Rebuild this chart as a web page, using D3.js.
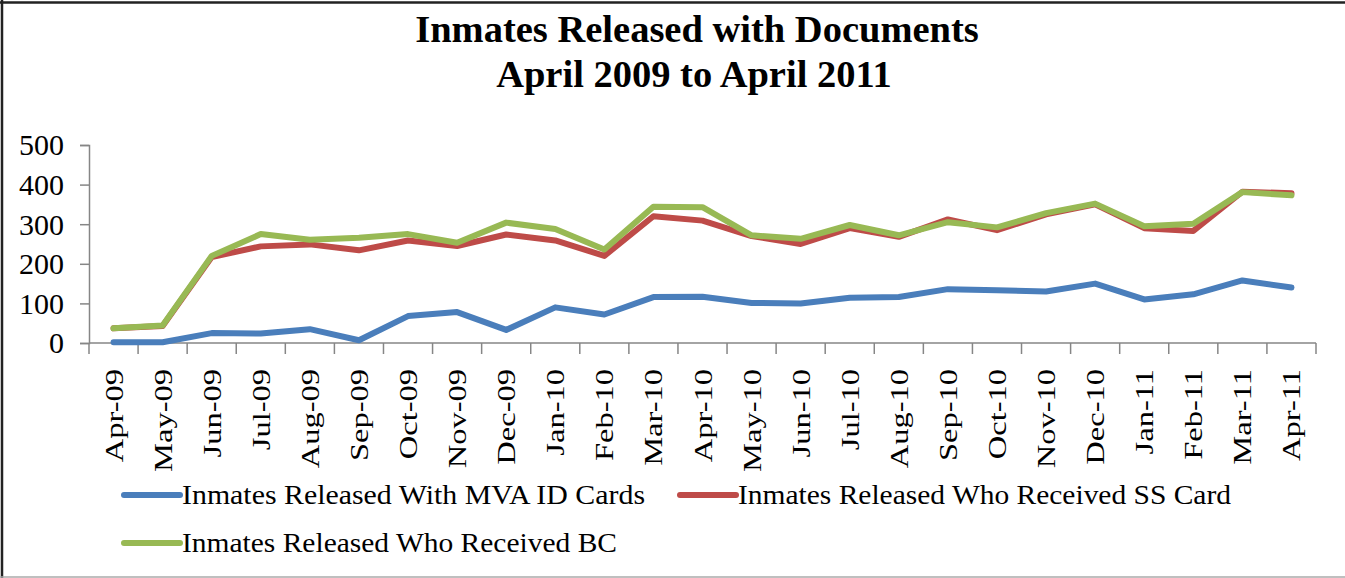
<!DOCTYPE html>
<html>
<head>
<meta charset="utf-8">
<script src="https://cdn.jsdelivr.net/npm/d3@7"></script>
<style>
  html, body { margin: 0; padding: 0; background: #fff; }
  svg { display: block; }
  svg text { font-family: "Liberation Serif", "Times New Roman", serif; }
</style>
</head>
<body>
<div id="chart"></div>
<script>
const width = 1345, height = 578;
const SERIF = '"Liberation Serif", "Times New Roman", serif';

const months = ['Apr-09','May-09','Jun-09','Jul-09','Aug-09','Sep-09','Oct-09','Nov-09','Dec-09',
  'Jan-10','Feb-10','Mar-10','Apr-10','May-10','Jun-10','Jul-10','Aug-10','Sep-10','Oct-10',
  'Nov-10','Dec-10','Jan-11','Feb-11','Mar-11','Apr-11'];

const mvaCards = [2, 2, 25, 24, 35, 7, 68, 78, 33, 90, 72, 116, 117, 101, 100, 114, 116, 136, 133, 130, 150, 110, 123, 158, 140];
const ssCards  = [37, 43, 217, 244, 249, 234, 259, 245, 274, 259, 220, 320, 309, 270, 250, 290, 268, 312, 285, 325, 350, 290, 283, 382, 378];
const bcDocs   = [37, 44, 220, 275, 261, 266, 275, 253, 304, 288, 236, 344, 343, 272, 263, 298, 272, 305, 292, 328, 352, 295, 301, 381, 373];

const yTicks = [0, 100, 200, 300, 400, 500];

const series = [
  {name: 'Inmates Released With MVA ID Cards', values: mvaCards, color: '#4a7ebb'},
  {name: 'Inmates Released Who Received SS Card', values: ssCards, color: '#be4b48'},
  {name: 'Inmates Released Who Received BC', values: bcDocs, color: '#98b954'},
];

const plot = {left: 89, right: 1316, top: 145, bottom: 343};

const svg = d3.select('#chart').append('svg')
  .attr('width', width)
  .attr('height', height);

// frame
svg.append('line').attr('x1', 0).attr('x2', width).attr('y1', 2.5).attr('y2', 2.5)
  .attr('stroke', '#222').attr('stroke-width', 2.5);
svg.append('line').attr('x1', 2).attr('x2', 2).attr('y1', 0).attr('y2', height)
  .attr('stroke', '#222').attr('stroke-width', 2.5);
svg.append('line').attr('x1', 0).attr('x2', width).attr('y1', 577).attr('y2', 577)
  .attr('stroke', '#aaa').attr('stroke-width', 1.5);

// title
const title = svg.append('text')
  .attr('text-anchor', 'middle')
  .attr('font-family', SERIF)
  .attr('font-weight', 'bold')
  .attr('font-size', 38.5);
title.append('tspan').attr('x', 697).attr('y', 42).text('Inmates Released with Documents');
title.append('tspan').attr('x', 694).attr('y', 87).text('April 2009 to April 2011');

const x = d3.scaleBand().domain(months).range([plot.left, plot.right]);
const y = d3.scaleLinear().domain([0, 500]).range([plot.bottom, plot.top]);

// y axis
const yAxis = svg.append('g')
  .attr('transform', `translate(${plot.left},0)`)
  .call(d3.axisLeft(y).tickValues(yTicks).tickSize(9).tickPadding(16));
yAxis.select('.domain').attr('stroke', '#868686').attr('stroke-width', 1.5);
yAxis.selectAll('.tick line').attr('stroke', '#868686').attr('stroke-width', 1.5);
yAxis.selectAll('.tick text')
  .attr('font-family', SERIF)
  .attr('font-size', 30).attr('fill', '#000')
  .attr('dy', '0.33em');

// x axis: ticks between categories
const xAxisG = svg.append('g').attr('transform', `translate(0,${plot.bottom})`);
xAxisG.append('line')
  .attr('x1', plot.left).attr('x2', plot.right)
  .attr('stroke', '#868686').attr('stroke-width', 1.5);
const edges = months.map(m => x(m)).concat([plot.right]);
xAxisG.selectAll('.xtick').data(edges).enter().append('line')
  .attr('class', 'xtick')
  .attr('x1', d => d).attr('x2', d => d)
  .attr('y1', 0).attr('y2', 11)
  .attr('stroke', '#868686').attr('stroke-width', 1.5);
xAxisG.selectAll('.xlabel').data(months).enter().append('text')
  .attr('class', 'xlabel')
  .attr('transform', d => `translate(${x(d) + x.bandwidth() / 2 + 9},26) rotate(-90)`)
  .attr('text-anchor', 'end')
  .attr('font-family', SERIF)
  .attr('font-size', 26)
  .text(d => d)
  .each(function () {
    // stretch along the text to match the reference proportions
    const w = this.getComputedTextLength();
    d3.select(this).attr('textLength', w * 1.25).attr('lengthAdjust', 'spacingAndGlyphs');
  });

// lines
const line = d3.line()
  .x((d, i) => x(months[i]) + x.bandwidth() / 2)
  .y(d => y(d));

svg.selectAll('.series').data(series).enter().append('path')
  .attr('class', 'series')
  .attr('fill', 'none')
  .attr('stroke', d => d.color)
  .attr('stroke-width', 6)
  .attr('stroke-linejoin', 'round')
  .attr('stroke-linecap', 'round')
  .attr('d', d => line(d.values));

// legend
const legendPos = [
  {x: 124, y: 495, w: 463},
  {x: 680, y: 495, w: 493},
  {x: 124, y: 543, w: 435},
];
const legend = svg.selectAll('.legend').data(series).enter().append('g')
  .attr('class', 'legend')
  .attr('transform', (d, i) => `translate(${legendPos[i].x},${legendPos[i].y})`);
legend.append('line')
  .attr('x1', 0).attr('x2', 56)
  .attr('stroke', d => d.color).attr('stroke-width', 6)
  .attr('stroke-linecap', 'round');
legend.append('text')
  .attr('x', 58).attr('y', 9)
  .attr('font-family', SERIF)
  .attr('font-size', 28)
  .attr('textLength', (d, i) => legendPos[i].w)
  .attr('lengthAdjust', 'spacingAndGlyphs')
  .text(d => d.name);
</script>
</body>
</html>
